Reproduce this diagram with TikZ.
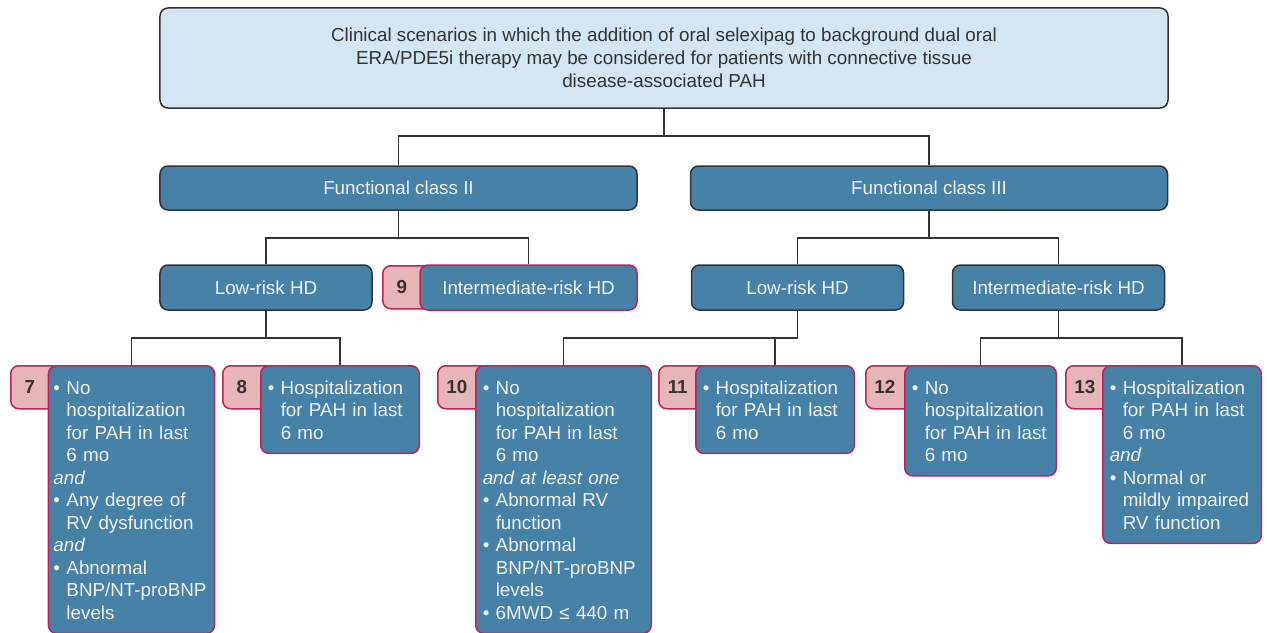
\documentclass[tikz,border=0pt]{standalone}
\usepackage{fontspec}
\setmainfont{Liberation Sans}
\usetikzlibrary{calc}
\definecolor{steel}{HTML}{4682A8}
\definecolor{paleblue}{HTML}{D4E6F2}
\definecolor{badgepink}{HTML}{E5B5B9}
\definecolor{crimson}{HTML}{C0215A}
\definecolor{darkline}{HTML}{333333}
\newcommand{\nl}{\hfil\break}
\newcommand{\bitem}[1]{\par\hangindent=2.6mm\hangafter=1\noindent\makebox[2.6mm][l]{\textbullet}#1\par}
\newcommand{\conj}[1]{\par\noindent\textit{#1}\par}
\tikzset{
  boxfont/.style={font=\fontsize{10.7pt}{12.8pt}\selectfont},
  topbox/.style={font=\fontsize{10.7pt}{13.2pt}\selectfont, draw=darkline, fill=paleblue, text=darkline, line width=0.3mm,
    rounded corners=1.6mm, minimum width=201.6mm, minimum height=20mm, align=center},
  fcbox/.style={boxfont, draw=darkline, fill=steel, text=white!95!black, line width=0.3mm,
    rounded corners=1.6mm, minimum width=95.4mm, minimum height=8.8mm},
  hdbox/.style={fcbox, minimum width=42.4mm, minimum height=9mm},
  leafbox/.style={boxfont, draw=crimson, fill=steel, text=white!95!black, line width=0.3mm,
    rounded corners=1.6mm, align=left, inner xsep=1.4mm, inner ysep=2.8mm, anchor=north,
    execute at begin node=\vspace*{-1.6mm}},
  badge/.style={boxfont, font=\fontsize{10.7pt}{12.8pt}\selectfont\bfseries, draw=crimson,
    fill=badgepink, text=darkline, line width=0.3mm, rounded corners=1.6mm,
    minimum width=10mm, minimum height=8.6mm, inner sep=0pt, anchor=north west},
  link/.style={draw=darkline, line width=0.3mm}
}
\begin{document}
\begin{tikzpicture}[x=0.2mm,y=-0.2mm]
	\useasboundingbox (0,0) rectangle (1267,633);
	
	%%%%% HEADER %%%%%
	\node[topbox] (top) at (664, 58) {Clinical scenarios in which the addition of oral selexipag to background dual oral\\
		ERA/PDE5i therapy may be considered for patients with connective tissue\\
		disease-associated PAH};
	
	%%%%% FUNCTIONAL CLASS %%%%%
	\node[fcbox] (fc2) at (398.5, 188) {Functional class II};
	\node[fcbox] (fc3) at (929, 188) {Functional class III};
	
	%%%%% HAEMODYNAMICS %%%%%
	\node[badge] (b9) at (382, 265) {9\hspace*{2.4mm}};
	\node[hdbox] (lo2) at (266, 287.5) {Low-risk HD};
	\node[hdbox, draw=crimson, minimum width=43.4mm] (in2) at (528.5, 287.5) {Intermediate-risk HD};
	\node[hdbox] (lo3) at (797.5, 287.5) {Low-risk HD};
	\node[hdbox] (in3) at (1058.5, 287.5) {Intermediate-risk HD};
	
	%%%%% BADGES %%%%%
	\node[badge] (b7) at (10, 365) {7\hspace*{2.4mm}};
	\node[badge] (b8) at (222, 365) {8\hspace*{2.4mm}};
	\node[badge] (b10) at (437, 365) {10\hspace*{2.4mm}};
	\node[badge] (b11) at (658, 365) {11\hspace*{2.4mm}};
	\node[badge] (b12) at (865, 365) {12\hspace*{2.4mm}};
	\node[badge] (b13) at (1065, 365) {13\hspace*{2.4mm}};
	
	%%%%% SCENARIOS %%%%%
	\node[leafbox, text width=31.2mm, inner xsep=1mm] (s7) at (131.5, 365) {%
		\bitem{No\nl hospitalization\nl for PAH in last\nl 6 mo}
		\conj{and}
		\bitem{Any degree of\nl RV dysfunction}
		\conj{and}
		\bitem{Abnormal\nl BNP/NT-proBNP\nl levels}};
	\node[leafbox, text width=28.9mm] (s8) at (340, 365) {%
		\bitem{Hospitalization\nl for PAH in last\nl 6 mo}};
	\node[leafbox, text width=32.3mm] (s10) at (563.5, 365) {%
		\bitem{No\nl hospitalization\nl for PAH in last\nl 6 mo}
		\conj{and at least one}
		\bitem{Abnormal RV\nl function}
		\bitem{Abnormal\nl BNP/NT-proBNP\nl levels}
		\bitem{6MWD ≤ 440 m}};
	\node[leafbox, text width=28.9mm] (s11) at (775, 365) {%
		\bitem{Hospitalization\nl for PAH in last\nl 6 mo}};
	\node[leafbox, text width=27.5mm] (s12) at (980.5, 365) {%
		\bitem{No\nl hospitalization\nl for PAH in last\nl 6 mo}};
	\node[leafbox, text width=28.9mm] (s13) at (1182, 365) {%
		\bitem{Hospitalization\nl for PAH in last\nl 6 mo}
		\conj{and}
		\bitem{Normal or\nl mildly impaired\nl RV function}};
	
	%%%%% CONNECTORS %%%%%
	\draw[link] (top.south) -- ++(0,27) -| (fc2.north);
	\draw[link] (top.south) -- ++(0,27) -| (fc3.north);
	\draw[link] (fc2.south) -- ++(0,27) -| (lo2.north);
	\draw[link] (fc2.south) -- ++(0,27) -| (in2.north);
	\draw[link] (fc3.south) -- ++(0,27) -| (lo3.north);
	\draw[link] (fc3.south) -- ++(0,27) -| (in3.north);
	\draw[link] (lo2.south) -- ++(0,27) -| (s7.north);
	\draw[link] (lo2.south) -- ++(0,27) -| (s8.north);
	\draw[link] (lo3.south) -- ++(0,27) -| (s10.north);
	\draw[link] (lo3.south) -- ++(0,27) -| (s11.north);
	\draw[link] (in3.south) -- ++(0,27) -| (s12.north);
	\draw[link] (in3.south) -- ++(0,27) -| (s13.north);
	
\end{tikzpicture}
\end{document}
